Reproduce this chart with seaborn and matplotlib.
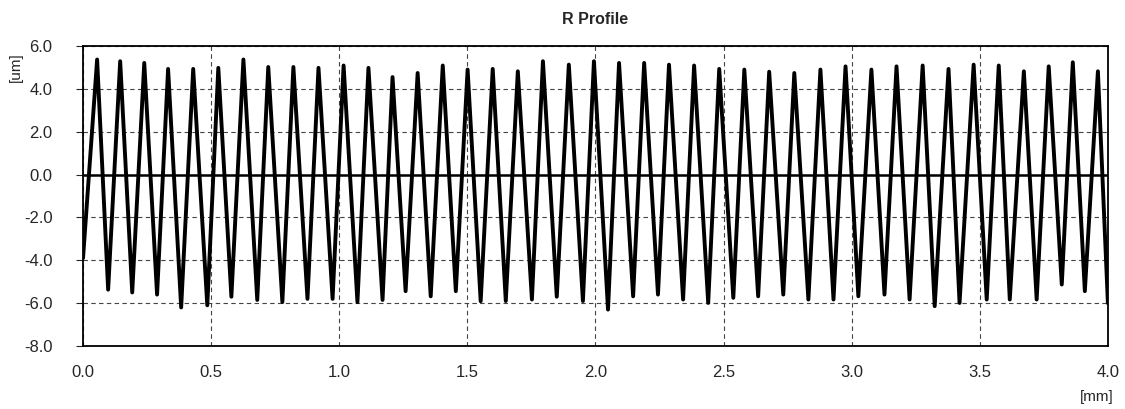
import numpy as np
import pandas as pd
import matplotlib
matplotlib.use("Agg")
import matplotlib.pyplot as plt
import seaborn as sns

inicio = (0.0, -3.9)
fin = (4.0, -6.0)

pico_x = [0.055, 0.145, 0.239, 0.332, 0.430, 0.528, 0.626, 0.723, 0.821, 0.919,
          1.017, 1.114, 1.208, 1.306, 1.404, 1.501, 1.599, 1.697, 1.795, 1.896,
          1.994, 2.092, 2.190, 2.287, 2.385, 2.483, 2.581, 2.678, 2.776, 2.878,
          2.976, 3.077, 3.175, 3.277, 3.378, 3.476, 3.574, 3.672, 3.769, 3.863,
          3.961]
pico_um = [5.37, 5.29, 5.21, 4.93, 4.93, 4.98, 5.37, 5.02, 5.02, 4.98,
           5.09, 4.98, 4.55, 4.74, 5.09, 4.90, 4.93, 4.82, 5.29, 5.13,
           5.29, 5.21, 5.21, 5.13, 5.09, 4.93, 4.90, 4.80, 4.74, 4.90,
           5.05, 4.90, 5.05, 5.09, 4.93, 5.13, 5.09, 4.82, 5.05, 5.24,
           4.82]

valle_x = [0.098, 0.192, 0.289, 0.383, 0.485, 0.579, 0.680, 0.778, 0.876, 0.974,
           1.071, 1.169, 1.259, 1.357, 1.455, 1.552, 1.650, 1.752, 1.849, 1.951,
           2.049, 2.147, 2.244, 2.342, 2.440, 2.538, 2.635, 2.733, 2.831, 2.929,
           3.026, 3.128, 3.226, 3.324, 3.421, 3.527, 3.617, 3.722, 3.820, 3.910]
valle_um = [-5.37, -5.50, -5.60, -6.20, -6.10, -5.70, -5.85, -5.95, -5.80, -5.80,
            -5.95, -5.85, -5.44, -5.68, -5.44, -5.91, -5.90, -5.83, -5.70, -5.90,
            -6.30, -5.68, -5.60, -5.83, -5.99, -5.75, -5.68, -5.60, -5.83, -5.83,
            -5.68, -5.60, -5.83, -6.14, -5.99, -5.83, -5.83, -5.83, -5.13, -5.44]

x_ticks = [0.0, 0.5, 1.0, 1.5, 2.0, 2.5, 3.0, 3.5, 4.0]
y_ticks = [-8.0, -6.0, -4.0, -2.0, 0.0, 2.0, 4.0, 6.0]

# --- armar la serie alternando picos y valles ---
xs = [inicio[0]]
ys = [inicio[1]]
for i in range(len(pico_x)):
    xs.append(pico_x[i]); ys.append(pico_um[i])
    if i < len(valle_x):
        xs.append(valle_x[i]); ys.append(valle_um[i])
xs.append(fin[0]); ys.append(fin[1])
df = pd.DataFrame({'x': xs, 'z': ys})

sns.set_style("white")
plt.rcParams['font.family'] = ['Liberation Sans', 'DejaVu Sans']

fig = plt.figure(figsize=(11.25, 4.09), dpi=100)
ax = fig.add_axes([0.0738, 0.154, 0.911, 0.7335])

ax.grid(True, color='#444444', linestyle=(0, (4, 3)), linewidth=0.8)
ax.axhline(0, color='black', linewidth=1.8, zorder=2)
sns.lineplot(data=df, x='x', y='z', ax=ax, color='black', linewidth=2.8, zorder=3)

ax.set_xlim(0, 4.0)
ax.set_ylim(-8, 6)
ax.set_xticks(x_ticks)
ax.set_yticks(y_ticks)
ax.set_xticklabels([f"{v:.1f}" for v in x_ticks])
ax.set_yticklabels([f"{v:.1f}" for v in y_ticks])
ax.tick_params(axis='x', length=0, pad=14, labelsize=12)
ax.tick_params(axis='y', length=5, direction='out', pad=17, labelsize=12, left=True)
ax.set_xlabel('')
ax.set_ylabel('')
for s in ax.spines.values():
    s.set_color('black')
    s.set_linewidth(1.3)

ax.set_title('R Profile', fontsize=11.5, fontweight='bold', pad=16)
fig.text(0.975, 0.03, '[mm]', fontsize=11, ha='center', va='center')
fig.text(0.014, 0.835, '[um]', fontsize=11, rotation=90, ha='center', va='center')

fig.savefig('out.png', dpi=100)
